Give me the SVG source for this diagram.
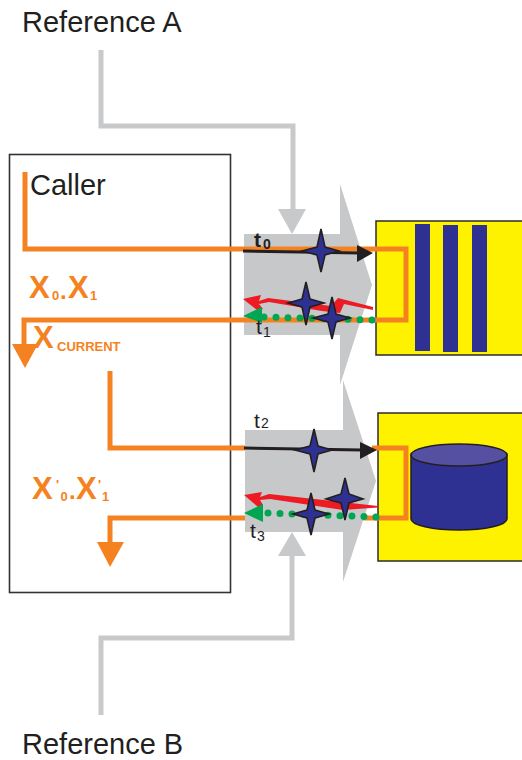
<svg xmlns="http://www.w3.org/2000/svg" width="522" height="760" viewBox="0 0 522 760">
<style>
text{font-family:"Liberation Sans",Arial,sans-serif}
.lbl{font-size:29px;fill:#231f20}
.t{font-size:21px;fill:#231f20}
.ts{font-size:14px;fill:#231f20}
.x{font-weight:bold;fill:#f58220}
.org{fill:none;stroke:#f58220;stroke-width:5}
.ref{fill:none;stroke:#c8c9cb;stroke-width:5}
.big{fill:#c7c8ca}
.box{fill:#fff200;stroke:#2b2b2b;stroke-width:1.5}
.bar{fill:#2e3192}
.star{fill:#2e3192;stroke:#231f20;stroke-width:1.6;stroke-linejoin:miter}
.blk{fill:none;stroke:#231f20;stroke-width:3}
.dot{fill:none;stroke:#00a651;stroke-width:7;stroke-linecap:round;stroke-dasharray:0 12}
</style>
<rect width="522" height="760" fill="#fff"/>
<g id="caller"><rect x="9.500" y="154.500" width="221" height="438" fill="#fff" stroke="#333" stroke-width="1.600"/><text class="lbl" x="30" y="195">Caller</text></g>
<g id="reference-a"><text class="lbl" x="22" y="32">Reference A</text></g>
<g id="reference-b"><text class="lbl" x="22" y="754">Reference B</text></g>
<g id="channel-a"><polygon class="big" points="244,234 340,234 340,184 372,285 340,385 340,335 244,335"/></g>
<g id="channel-b"><polygon class="big" points="245,430 343,430 343,380 376,481 343,582 343,532 245,532"/></g>
<g id="target-a"><rect class="box" x="376" y="221" width="150" height="134"/><rect class="bar" x="415" y="224" width="15" height="127"/><rect class="bar" x="443" y="225" width="15" height="127"/><rect class="bar" x="472" y="225" width="15" height="127"/></g>
<g id="target-b"><rect class="box" x="378" y="413" width="150" height="148"/><path d="M411 455V519A48 11 0 0 0 507 519V455Z" fill="#2e3192" stroke="#231f20" stroke-width="1.500"/><ellipse cx="459" cy="455" rx="48" ry="11" fill="#5650a2" stroke="#231f20" stroke-width="1.500"/></g>
<g id="connectors">
<polyline class="ref" points="101,50 101,126 293,126 293,212"/><polygon points="278,209 306,209 292,234" fill="#c8c9cb"/>
<polyline class="ref" points="101,715 101,638 292,638 292,553"/><polygon points="278,556 306,556 292,532" fill="#c8c9cb"/>
<polyline class="org" points="25,172 25,249 406,249 406,320 24,320 24,345"/><polygon points="12,344 38,344 25,368" fill="#f58220"/>
<polyline class="org" points="110,371 110,448 245,448"/><polyline class="org" points="372,448 406,448 406,518 363,518"/><polyline class="org" points="245,518 110,518 110,543"/><polygon points="97,542 124,542 110,567" fill="#f58220"/>
<line class="blk" x1="243" y1="251" x2="360" y2="253"/><polygon points="357,245 373,253 357,262" fill="#231f20"/>
<line class="blk" x1="244" y1="448" x2="362" y2="450"/><polygon points="360,442 377,450 360,459" fill="#231f20"/>
<polygon points="243,299 261,295 259,301 268,298 331,306 338,298 373,307 373,310 344,304 340,313 322,311 269,302 259,304 263,309 257,310" fill="#ed1c24"/>
<polygon points="244,495 262,492 260,497 269,494 378,506 378,507.500 343,510 270,499 260,500 263,505 258,507" fill="#ed1c24"/>
<line class="dot" x1="264" y1="317" x2="373" y2="320"/><polygon points="243,316 262,307 262,323" fill="#00a651"/>
<line class="dot" x1="268" y1="513" x2="377" y2="517"/><polygon points="244,513 263,504 263,522" fill="#00a651"/>
</g>
<g id="stars">
<polygon class="star" points="321,229 325,247 339,251 325,255 321,272 317,255 302,251 317,247"/>
<polygon class="star" points="306,282 310,299 324,303 310,307 306,325 302,307 288,303 302,299"/>
<polygon class="star" points="332,297 336,314 350,318 336,322 332,339 328,322 313,318 328,314"/>
<polygon class="star" points="314,429 318,446 332,450 318,454 314,472 310,454 295,450 310,446"/>
<polygon class="star" points="345,478 349,494 363,499 349,503 345,520 341,503 326,499 341,494"/>
<polygon class="star" points="311,493 315,510 329,514 315,518 311,535 307,518 293,514 307,510"/>
</g>
<g id="labels">
<text class="t" font-weight="bold" x="254" y="247">t</text><text class="ts" font-weight="bold" x="263" y="249">0</text>
<text class="t" x="256" y="334">t</text><text class="ts" x="263" y="337">1</text>
<text class="t" x="254" y="428">t</text><text class="ts" x="261" y="428">2</text>
<text class="t" x="250" y="538">t</text><text class="ts" x="257" y="541">3</text>
<text class="x" font-size="31" x="29" y="298">X</text><text class="x" font-size="13" x="52" y="300">0</text><text class="x" font-size="24" x="60" y="299">.</text><text class="x" font-size="31" x="68" y="298">X</text><text class="x" font-size="13" x="90" y="300">1</text>
<text class="x" font-size="31" x="33" y="348">X</text><text class="x" font-size="13" x="57" y="351">CURRENT</text>
<text class="x" font-size="31" x="32" y="499">X</text><text class="x" font-size="13" x="56" y="489">'</text><text class="x" font-size="13" x="60.500" y="501">0</text><text class="x" font-size="24" x="69" y="499">.</text><text class="x" font-size="31" x="76" y="499">X</text><text class="x" font-size="13" x="98" y="489">'</text><text class="x" font-size="13" x="102" y="501">1</text>
</g>
</svg>
